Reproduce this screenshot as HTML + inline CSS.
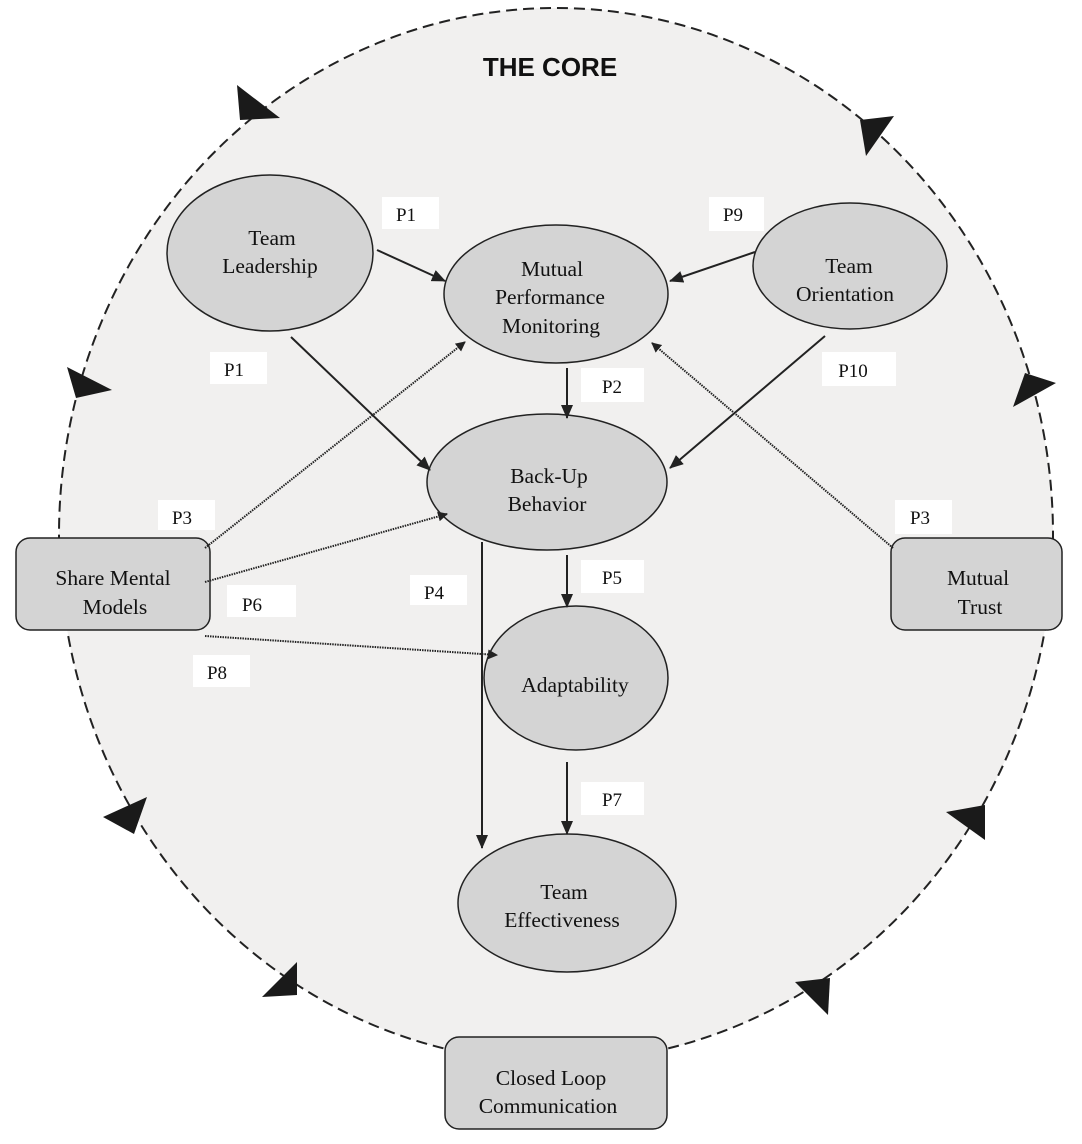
<!DOCTYPE html>
<html><head><meta charset="utf-8"><style>
html,body{margin:0;padding:0;background:#fff;}
svg{display:block}
text{font-family:"Liberation Serif",serif;font-size:21.5px;fill:#111;text-anchor:middle}
.p{font-size:19px}
</style></head><body>
<svg width="1082" height="1144" viewBox="0 0 1082 1144" xmlns="http://www.w3.org/2000/svg">
<defs>
<marker id="a" markerWidth="10" markerHeight="10" refX="9" refY="5" orient="auto" markerUnits="userSpaceOnUse"><path d="M0,0 L10,5 L0,10 z" fill="#222"/></marker>
<marker id="b" markerWidth="14" markerHeight="12" refX="13" refY="6" orient="auto" markerUnits="userSpaceOnUse"><path d="M0,0 L14,6 L0,12 z" fill="#222"/></marker>
</defs>
<ellipse cx="556" cy="535" rx="497" ry="527" fill="#f1f0ef" stroke="#222" stroke-width="2" stroke-dasharray="11,6"/>
<g fill="#1a1a1a">
<polygon points="237,85 240,120 280,118"/>
<polygon points="67,367 76,398 112,390"/>
<polygon points="103,817 147,797 134,834"/>
<polygon points="262,997 297,962 297,995"/>
<polygon points="795,982 830,978 828,1015"/>
<polygon points="946,812 985,805 985,840"/>
<polygon points="1013,407 1056,383 1025,373"/>
<polygon points="860,120 894,116 866,156"/>
</g>
<text x="550" y="76" style="font-family:'Liberation Sans',sans-serif;font-weight:bold;font-size:26px">THE CORE</text>
<g fill="#fff">
<rect x="382" y="197" width="57" height="32"/><rect x="709" y="197" width="55" height="34"/>
<rect x="210" y="352" width="57" height="32"/><rect x="822" y="352" width="74" height="34"/>
<rect x="581" y="368" width="63" height="34"/><rect x="158" y="500" width="57" height="30"/>
<rect x="895" y="500" width="57" height="34"/><rect x="581" y="560" width="63" height="33"/>
<rect x="410" y="575" width="57" height="30"/><rect x="227" y="585" width="69" height="32"/>
<rect x="193" y="655" width="57" height="32"/><rect x="581" y="782" width="63" height="33"/>
</g>
<text class="p" x="406" y="221">P1</text><text class="p" x="733" y="221">P9</text>
<text class="p" x="234" y="376">P1</text><text class="p" x="853" y="377">P10</text>
<text class="p" x="612" y="393">P2</text><text class="p" x="182" y="524">P3</text>
<text class="p" x="920" y="524">P3</text><text class="p" x="612" y="584">P5</text>
<text class="p" x="434" y="599">P4</text><text class="p" x="252" y="611">P6</text>
<text class="p" x="217" y="679">P8</text><text class="p" x="612" y="806">P7</text>
<g fill="#d4d4d4" stroke="#222" stroke-width="1.5">
<ellipse cx="270" cy="253" rx="103" ry="78"/>
<ellipse cx="556" cy="294" rx="112" ry="69"/>
<ellipse cx="850" cy="266" rx="97" ry="63"/>
<ellipse cx="547" cy="482" rx="120" ry="68"/>
<ellipse cx="576" cy="678" rx="92" ry="72"/>
<ellipse cx="567" cy="903" rx="109" ry="69"/>
<rect x="16" y="538" width="194" height="92" rx="14"/>
<rect x="891" y="538" width="171" height="92" rx="14"/>
<rect x="445" y="1037" width="222" height="92" rx="14"/>
</g>
<g stroke="#222" stroke-width="2" fill="none" marker-end="url(#b)">
<line x1="377" y1="250" x2="445" y2="281"/>
<line x1="755" y1="252" x2="670" y2="281"/>
<line x1="291" y1="337" x2="430" y2="470"/>
<line x1="825" y1="336" x2="670" y2="468"/>
<line x1="567" y1="368" x2="567" y2="418"/>
<line x1="482" y1="542" x2="482" y2="848"/>
<line x1="567" y1="555" x2="567" y2="607"/>
<line x1="567" y1="762" x2="567" y2="834"/>
</g>
<g stroke="#222" stroke-width="2" fill="none" stroke-dasharray="1.5,1" marker-end="url(#a)">
<line x1="205" y1="548" x2="465" y2="342"/>
<line x1="205" y1="582" x2="447" y2="514"/>
<line x1="205" y1="636" x2="497" y2="655"/>
<line x1="893" y1="548" x2="652" y2="343"/>
</g>
<text x="272" y="245">Team</text><text x="270" y="273">Leadership</text>
<text x="552" y="276">Mutual</text><text x="550" y="304">Performance</text><text x="551" y="333">Monitoring</text>
<text x="849" y="273">Team</text><text x="845" y="301">Orientation</text>
<text x="549" y="483">Back-Up</text><text x="547" y="511">Behavior</text>
<text x="575" y="692">Adaptability</text>
<text x="564" y="899">Team</text><text x="562" y="927">Effectiveness</text>
<text x="113" y="585">Share Mental</text><text x="115" y="614">Models</text>
<text x="978" y="585">Mutual</text><text x="980" y="614">Trust</text>
<text x="551" y="1085">Closed Loop</text><text x="548" y="1113">Communication</text>
</svg>
</body></html>
